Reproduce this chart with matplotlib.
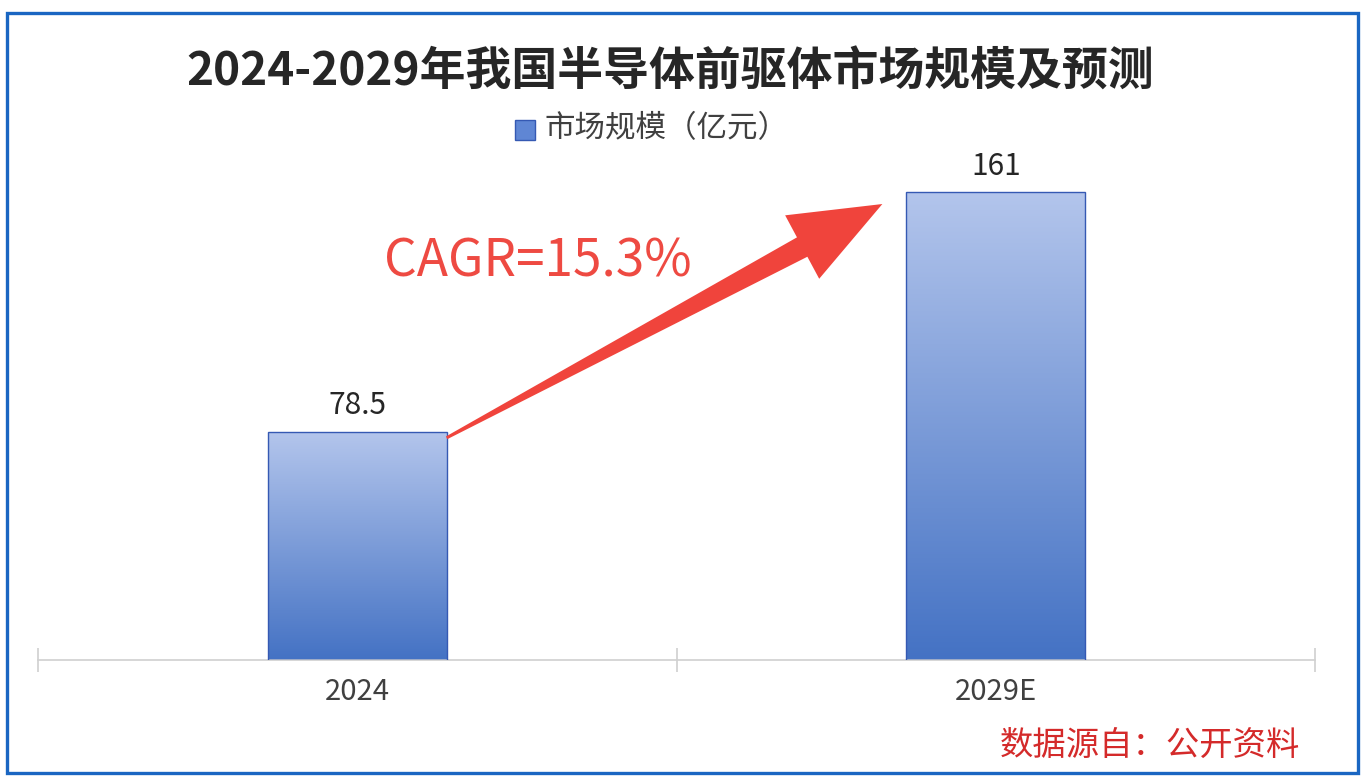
import matplotlib.pyplot as plt
import numpy as np
from matplotlib.patches import Polygon, Rectangle
from matplotlib.colors import LinearSegmentedColormap
from matplotlib.transforms import IdentityTransform

plt.rcParams['font.family'] = ['Noto Sans CJK SC', 'DejaVu Sans']

# Data
categories = ['2024', '2029E']
values = [78.5, 161]
value_labels = ['78.5', '161']
title = '2024-2029年我国半导体前驱体市场规模及预测'
legend_label = '市场规模（亿元）'
cagr_text = 'CAGR=15.3%'
source_text = '数据源自：公开资料'

W, H = 1368, 784
fig = plt.figure(figsize=(W / 100, H / 100), dpi=100)
ax = fig.add_axes([38 / W, 1 - 660 / H, (1315 - 38) / W, (660 - 150) / H])

x = np.arange(len(categories))
bar_w = 0.28
ax.set_xlim(-0.5, len(categories) - 0.5)
ax.set_ylim(0, 175.6)

cmap = LinearSegmentedColormap.from_list('bar', ['#4472c4', '#b3c5ec'])
grad = np.linspace(0, 1, 256).reshape(-1, 1)
bars = ax.bar(x, values, width=bar_w, color='none', edgecolor='#3559b3', linewidth=1.0, zorder=3)
for b, v in zip(bars, values):
    x0 = b.get_x()
    im = ax.imshow(grad, cmap=cmap, aspect='auto', origin='lower',
                   extent=[x0, x0 + bar_w, 0, v], zorder=2)
    im.set_clip_path(b)

for xi, v, lab in zip(x, values, value_labels):
    ax.annotate(lab, (xi, v), xytext=(0, 19), textcoords='offset points',
                ha='center', va='center', fontsize=21.5, color='#262626')

# axes styling
for s in ['top', 'right', 'left']:
    ax.spines[s].set_visible(False)
ax.spines['bottom'].set_color('#d0d0d0')
ax.spines['bottom'].set_linewidth(1.2)
ax.set_yticks([])
ax.set_xticks(np.arange(-0.5, len(categories)), labels=[])
ax.tick_params(axis='x', which='major', direction='inout', length=17, color='#d0d0d0', width=1.2)
ax.set_xticks(x, labels=categories, minor=True)
ax.tick_params(axis='x', which='minor', length=0, pad=12, labelsize=21, labelcolor='#404040')

# CAGR arrow (display coords, anchored on bar tops)
fig.canvas.draw()
p0 = ax.transData.transform((x[0] + bar_w / 2, values[0] - 2))
p1 = ax.transData.transform((x[1] - bar_w / 2, values[1] - 4)) + np.array([-24, 0])
d = p1 - p0
L = np.hypot(*d)
u = d / L
n = np.array([-u[1], u[0]])
head_len, head_hw, sh0, sh1 = 91, 36, 1.5, 11
base = p1 - u * head_len
pts = [p0 + n * sh0, base + n * sh1, base + n * head_hw, p1,
       base - n * head_hw, base - n * sh1, p0 - n * sh0]
fig.patches.append(Polygon(pts, closed=True, facecolor='#f0443c', edgecolor='none',
                           transform=IdentityTransform(), zorder=5))

fig.text(538 / W, 1 - 262 / H, cagr_text, ha='center', va='center',
         fontsize=37, fontweight='light', color='#ee4a42')

# title and legend
fig.text(670 / W, 1 - 73 / H, title, ha='center', va='center',
         fontsize=33, fontweight='bold', color='#262626')
fig.patches.append(Rectangle((515 / W, 1 - 140 / H), 20 / W, 20 / H,
                             transform=fig.transFigure, facecolor='#5f86d4',
                             edgecolor='#3559b3', linewidth=1))
fig.text(545 / W, 1 - 129 / H, legend_label, ha='left', va='center',
         fontsize=22, color='#404040')

fig.text(1300 / W, 1 - 745 / H, source_text, ha='right', va='center',
         fontsize=24, color='#d42a2a')

# outer border
fig.patches.append(Rectangle((7 / W, 1 - 773 / H), (1358 - 7) / W, (773 - 13) / H,
                             transform=fig.transFigure, facecolor='none',
                             edgecolor='#1a66c2', linewidth=2.4))

fig.savefig('out.png', dpi=100)
